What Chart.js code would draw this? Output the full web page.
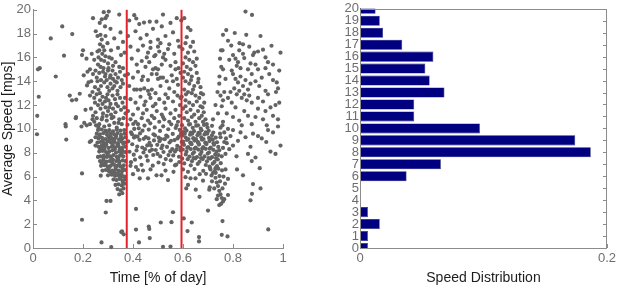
<!DOCTYPE html>
<html>
<head>
<meta charset="utf-8">
<script src="https://cdn.jsdelivr.net/npm/chart.js@4.4.1/dist/chart.umd.min.js"></script>
<style>
  html, body { margin: 0; padding: 0; background: #fff; }
  #wrap { position: relative; width: 619px; height: 288px; }
  canvas { position: absolute; top: 0; }
  #scatter { left: 0; }
  #dist { left: 310px; }
</style>
</head>
<body>
<div id="wrap">
  <canvas id="scatter" width="310" height="288"></canvas>
  <canvas id="dist" width="309" height="288"></canvas>
</div>
<script>
// time of day (fraction) vs average speed
const earlyPts = [
  [.02,15.0],[.027,15.1],[.023,12.7],[.017,11.1],[.016,9.55],[.071,17.6],[.117,18.6],[.157,17.96],
  [.124,16.15],[.091,14.4],[.147,12.8],[.156,12.4],[.173,12.45],[.187,12.95],[.172,11.0],[.13,10.4],
  [.133,9.1],[.196,16.2],[.2,16.6],[.203,14.5],[.216,13.65],[.233,14.0],[.171,10.9],[.194,10.2],
  [.131,10.2],[.205,10.5],[.215,10.3],[.227,8.9],[.233,9.0],[.21,11.6],[.218,14.8],[.214,15.9],[.26,7.65]
];
const morningUpper = [
  [.24,19.3],[.283,19.8],[.296,19.5],[.303,19.85],[.29,19.3],[.267,18.9],[.251,18.2],[.27,17.9],[.275,17.5],
  [.268,17.1],[.28,16.9],[.265,16.6],[.258,16.5],[.277,16.3],[.29,16.1],[.305,16.0],[.315,15.9],[.3,15.5],
  [.285,15.7],[.27,15.2],[.26,15.4],[.25,14.9],[.24,14.6],[.255,14.3],[.265,14.7],[.28,14.8],[.29,14.6],
  [.3,14.9],[.31,14.5],[.32,14.2],[.33,14.6],[.34,14.3],[.345,15.2],[.355,14.1],[.36,13.8],[.35,13.5],
  [.335,13.9],[.325,13.6],[.31,13.8],[.295,14.1],[.285,13.9],[.272,13.6],[.262,13.3],[.248,13.5],[.238,13.1],
  [.228,12.8],[.245,12.6],[.255,12.9],[.268,12.4],[.278,12.7],[.288,12.3],[.298,12.9],[.305,13.2],[.318,12.8],
  [.328,12.5],[.338,12.9],[.348,12.6],[.358,12.2],[.365,11.8],[.352,11.6],[.34,11.9],[.33,11.4],[.32,11.7],
  [.31,12.1],[.3,11.5],[.29,11.8],[.28,11.3],[.27,11.7],[.26,12.0],[.25,11.4],[.24,11.1],[.232,11.7],
  [.245,10.6],[.255,10.9],[.265,10.4],[.275,10.8],[.285,10.2],[.295,10.7],[.305,10.3],[.315,10.9],[.325,10.5],
  [.335,10.1],[.345,10.8],[.355,10.4],[.362,10.9],[.37,11.3],[.368,12.6],[.36,15.1],[.352,16.2],[.34,16.8],
  [.33,15.6],[.32,15.3],[.312,16.6],[.298,17.2],[.29,17.8],[.288,18.6],[.275,19.2],[.31,18.4],[.325,17.6],
  [.345,19.6],[.35,18.1],[.36,17.3],[.366,16.4],[.368,14.5],[.258,17.8],[.235,16.3],[.245,15.8],[.228,15.0],
  [.222,13.9],[.272,14.1],[.282,15.1],[.292,12.6],[.302,12.4],[.312,11.2],[.278,12.1],[.268,13.0],[.258,14.0],
  [.248,12.2],[.288,14.4],[.298,13.5],[.308,14.3],[.318,13.4],[.328,14.0],[.338,13.2],[.348,14.8],[.332,12.1],
  [.322,11.0],[.342,10.5],[.262,10.1],[.252,10.3],[.238,10.8],[.228,10.4],[.272,15.8],[.262,16.0],[.302,15.1],
  [.318,14.9],[.285,16.6],[.278,11.0],[.295,11.1],[.305,11.8]
];
const morningCore = [
  [.26,9.9],[.275,9.95],[.29,9.85],[.305,9.9],[.32,9.8],[.335,9.95],[.35,9.85],[.365,9.9],
  [.255,9.6],[.268,9.55],[.282,9.65],[.296,9.5],[.31,9.6],[.324,9.55],[.338,9.65],[.352,9.5],[.366,9.6],
  [.262,9.2],[.276,9.25],[.29,9.15],[.303,9.3],[.316,9.2],[.33,9.25],[.344,9.1],[.358,9.2],[.37,9.3],[.25,9.3],
  [.258,8.85],[.27,8.9],[.284,8.8],[.298,8.95],[.312,8.85],[.326,8.9],[.34,8.8],[.354,8.95],[.367,8.85],
  [.262,8.5],[.275,8.45],[.288,8.55],[.302,8.4],[.315,8.5],[.328,8.45],[.342,8.55],[.356,8.4],[.369,8.5],[.25,8.6],
  [.265,8.1],[.278,8.15],[.292,8.05],[.305,8.1],[.318,8.2],[.332,8.0],[.345,8.1],[.358,8.15],[.37,8.05],
  [.27,7.7],[.283,7.75],[.296,7.65],[.309,7.7],[.322,7.8],[.335,7.65],[.348,7.75],[.361,7.7],
  [.268,7.3],[.281,7.35],[.294,7.25],[.307,7.3],[.32,7.4],[.333,7.3],[.346,7.25],[.359,7.35],[.37,7.3],
  [.272,6.9],[.285,6.95],[.298,6.85],[.311,6.9],[.324,7.0],[.337,6.9],[.35,6.85],[.363,6.95],
  [.278,6.5],[.291,6.55],[.304,6.45],[.317,6.5],[.33,6.6],[.343,6.5],[.356,6.45],[.368,6.55],
  [.271,6.07],[.3,6.1],[.315,6.15],[.328,6.05],[.341,6.1],[.354,6.2],[.366,6.0],
  [.322,5.75],[.334,5.7],[.346,5.8],[.358,5.65],[.368,5.75],[.33,5.3],[.342,5.35],[.355,5.25],[.365,5.4],
  [.338,4.95],[.35,4.85],[.362,5.0],[.345,4.5],[.357,4.6],
  [.265,9.4],[.279,9.0],[.293,8.7],[.306,9.05],[.319,8.65],[.333,9.4],[.347,8.3],[.361,8.75],[.285,8.3],
  [.299,7.9],[.313,7.55],[.327,8.3],[.341,7.5],[.355,7.95],[.289,7.1],[.303,6.7],[.317,7.15],[.331,6.75],
  [.345,7.05],[.359,6.7],[.296,9.75],[.31,9.35],[.324,9.05],[.338,8.7],[.352,9.3],[.275,8.6],[.268,8.25],
  [.282,7.5],[.275,7.1],[.34,6.3],[.352,5.95],[.36,5.5],[.326,6.3],[.312,6.3]
];
const middayCore = [
  [.378,10.35],[.392,9.72],[.401,10.41],[.409,9.38],[.423,10.05],[.428,9.62],[.446,10.28],[.451,9.31],
  [.463,9.94],[.469,10.47],[.482,9.55],[.487,10.12],[.503,9.26],[.508,9.83],[.521,10.22],[.533,9.44],
  [.541,9.97],[.553,10.38],[.559,9.58],[.571,10.08],[.583,9.35],[.587,9.91],
  [.381,8.96],[.397,8.71],[.404,9.27],[.417,8.52],[.426,9.08],[.437,8.44],[.443,9.17],[.457,8.61],[.466,8.83],
  [.476,8.25],[.484,9.03],[.497,8.66],[.506,8.97],[.514,8.38],[.527,9.14],[.536,8.49],[.546,8.86],[.557,8.31],
  [.566,9.06],[.577,8.58],[.589,8.42],
  [.386,8.08],[.403,7.84],[.414,8.19],[.429,7.61],[.442,8.02],[.454,7.72],[.467,8.14],[.481,7.81],[.491,8.23],
  [.509,7.69],[.522,8.06],[.531,7.47],[.549,8.11],[.561,7.77],[.574,8.28],[.584,7.66],
  [.392,7.21],[.408,7.42],[.434,6.98],[.459,7.33],[.479,6.91],[.502,7.18],[.523,7.05],[.551,7.36],[.568,6.94],[.585,7.22],
  [.412,6.8],[.427,5.85],[.44,6.5],[.46,5.85],[.47,6.6],[.494,6.1],[.514,6.1],[.53,6.5],[.54,5.7],[.573,7.0],
  [.562,6.4],[.4,6.2],[.42,6.55],[.39,6.9],
  [.396,9.55],[.418,9.35],[.438,9.85],[.462,9.2],[.488,9.45],[.512,9.15],[.538,9.35],[.552,9.0],[.578,9.2],
  [.405,10.0],[.448,8.3],[.472,8.6],[.498,7.9],[.518,8.6],[.542,7.8],[.568,8.1],[.592,9.6],[.595,8.9],[.59,8.2],[.597,7.5]
];
const middayUpper = [
  [.385,19.1],[.405,19.55],[.413,19.27],[.444,18.93],[.467,19.0],[.494,19.0],[.52,19.6],[.55,18.9],[.575,19.3],
  [.38,17.8],[.41,18.2],[.43,17.6],[.455,17.9],[.48,18.4],[.5,17.5],[.51,17.2],[.53,17.8],[.56,18.1],[.58,17.4],
  [.39,16.9],[.42,16.6],[.44,17.0],[.46,16.4],[.47,16.8],[.49,16.2],[.505,16.5],[.52,16.0],[.54,16.7],[.565,16.3],
  [.585,16.9],[.395,15.9],[.415,15.4],[.435,15.7],[.45,15.2],[.465,15.6],[.48,15.0],[.49,15.1],[.5,15.0],
  [.515,15.4],[.53,15.8],[.55,15.3],[.57,15.6],[.582,15.1],[.38,14.6],[.4,14.3],[.42,14.8],[.44,14.4],
  [.46,14.1],[.475,14.6],[.5,14.2],[.51,14.3],[.52,14.3],[.535,14.0],[.555,14.5],[.575,14.2],[.59,14.7],
  [.385,13.6],[.405,13.3],[.415,13.3],[.43,13.3],[.445,13.4],[.46,13.2],[.475,13.3],[.49,13.0],[.51,13.6],
  [.53,12.9],[.545,13.4],[.565,13.1],[.58,13.7],[.39,12.5],[.41,12.2],[.43,12.7],[.45,12.3],[.47,12.6],
  [.49,12.1],[.505,12.5],[.525,12.2],[.54,12.6],[.56,12.3],[.578,12.8],[.588,12.0],[.38,11.5],[.4,11.2],
  [.42,11.7],[.44,11.3],[.455,11.6],[.475,11.1],[.495,11.5],[.515,11.2],[.53,11.7],[.55,11.3],[.57,11.6],
  [.585,11.1],[.39,10.8],[.41,10.6],[.435,10.9],[.46,10.7],[.485,10.9],[.505,10.6],[.525,10.8],[.545,10.6],
  [.565,10.9],[.58,10.6],[.425,18.8],[.47,17.3],[.515,18.6],[.545,17.1],[.57,15.0],[.455,16.0],[.485,16.1],
  [.5,16.9],[.525,16.3],[.435,14.1],[.465,12.9],[.495,14.6],[.56,14.0],[.59,12.6],[.575,10.3],[.42,10.4],
  [.445,12.0],[.48,11.9],[.52,11.0]
];
const afternoonUpper = [
  [.593,19.1],[.605,19.3],[.62,18.5],[.63,18.3],[.615,17.7],[.64,17.3],[.63,16.9],[.645,16.5],[.62,16.4],
  [.61,16.0],[.625,15.8],[.64,15.6],[.6,15.5],[.615,15.2],[.63,15.0],[.65,15.3],[.605,14.8],[.62,14.6],
  [.635,14.4],[.655,14.7],[.6,14.3],[.61,14.0],[.625,13.8],[.645,13.6],[.66,13.9],[.67,13.5],[.605,13.3],
  [.62,13.1],[.635,13.0],[.65,12.8],[.665,12.6],[.68,12.9],[.595,12.7],[.61,12.4],[.625,12.2],[.64,12.0],
  [.655,12.3],[.67,11.9],[.685,12.2],[.6,11.7],[.615,11.4],[.63,11.6],[.645,11.2],[.66,11.5],[.675,11.1],
  [.683,11.4],[.605,10.9],[.62,10.7],[.635,11.0],[.65,10.6],[.665,10.9],[.68,10.6],[.69,10.8],[.61,11.9],
  [.64,13.3],[.655,15.9],[.61,17.2],[.598,16.7],[.632,14.1],[.612,12.9],[.628,10.4],[.66,10.3],[.678,11.8],
  [.672,13.0],[.662,14.2],[.695,10.4]
];
const afternoonCore = [
  [.596,10.31],[.608,10.04],[.624,10.36],[.639,10.09],[.653,10.27],[.671,10.02],[.684,10.33],[.698,10.11],[.716,10.26],
  [.602,9.74],[.614,9.86],[.631,9.69],[.644,9.81],[.662,9.66],[.674,9.88],[.691,9.72],[.703,9.84],[.721,9.69],
  [.598,9.45],[.611,9.28],[.628,9.51],[.641,9.22],[.658,9.47],[.673,9.29],[.686,9.53],[.704,9.24],[.716,9.46],[.731,9.27],
  [.601,8.93],[.616,9.07],[.629,8.86],[.646,9.02],[.659,8.91],[.676,9.09],[.689,8.84],[.706,8.98],[.719,9.11],[.736,8.88],
  [.604,8.66],[.621,8.48],[.634,8.71],[.651,8.44],[.664,8.68],[.681,8.47],[.694,8.73],[.711,8.42],[.724,8.67],[.741,8.49],
  [.599,8.27],[.614,8.09],[.631,8.31],[.644,8.04],[.661,8.26],[.674,8.07],[.691,8.33],[.704,8.02],[.721,8.24],[.734,8.09],
  [.611,7.86],[.626,7.68],[.639,7.91],[.656,7.64],[.669,7.87],[.686,7.69],[.699,7.93],[.716,7.63],[.729,7.86],
  [.619,7.46],[.636,7.29],[.649,7.52],[.666,7.24],[.679,7.47],[.696,7.28],[.709,7.51],[.726,7.23],[.739,7.44],
  [.631,6.94],[.659,7.06],[.691,6.97],[.706,6.84],[.719,7.08],[.736,6.88],[.751,7.12],
  [.646,6.63],[.681,6.48],[.708,6.71],[.727,6.46],[.741,6.66],[.756,6.52],[.692,6.23],[.714,6.09],[.731,6.31],[.746,6.04],
  [.607,9.6],[.622,9.15],[.637,9.6],[.652,9.15],[.667,9.6],[.682,9.15],[.697,9.6],[.712,9.15],[.617,8.4],
  [.632,8.8],[.647,8.35],[.662,8.8],[.677,8.35],[.692,8.8],[.707,8.35],[.722,8.8],[.642,7.55],[.672,7.55],
  [.702,7.55],[.732,7.55],[.605,7.1],[.62,6.4],[.61,5.95],[.6,6.6],
  [.75,10.1],[.765,9.7],[.78,10.0],[.75,9.3],[.765,8.9],[.745,8.2],[.76,8.4],[.775,8.8],[.79,9.4],[.8,9.9],
  [.755,7.7],[.77,7.9],[.785,8.3],[.8,8.6],[.814,7.7],[.748,9.6],[.758,10.3],[.772,9.2],[.742,7.8]
];
const afternoonTail = [
  [.72,6.3],[.73,5.9],[.735,5.5],[.74,5.2],[.745,4.8],[.75,4.5],[.755,4.2],[.76,3.9],[.74,4.4],[.752,3.7],
  [.765,4.1],[.748,5.6],[.758,5.0],[.762,6.0],[.768,5.4],[.77,6.6],[.78,5.8],[.725,5.0],[.735,4.1],[.745,3.6],
  [.73,6.7],[.716,5.6],[.71,6.6],[.705,4.9],[.667,6.2],[.68,5.65],[.707,5.1],[.613,5.0],[.62,5.3],[.65,5.85],[.63,5.85]
];
const eveningPts = [
  [.85,19.85],[.876,19.57],[.773,18.3],[.807,18.05],[.853,17.9],[.826,17.2],[.84,17.1],[.793,17.0],[.954,16.98],
  [.92,16.65],[.99,16.4],[.8,16.2],[.81,15.9],[.84,16.3],[.845,15.95],[.88,16.2],[.885,16.4],[.9,16.5],[.93,16.0],
  [.82,15.6],[.815,15.3],[.83,15.1],[.89,15.4],[.93,15.1],[.985,14.9],[.795,14.9],[.753,15.2],[.76,15.0],
  [.8,14.6],[.81,14.2],[.82,13.9],[.83,14.4],[.84,13.6],[.85,14.1],[.86,13.3],[.87,13.8],[.805,13.4],[.815,12.9],
  [.825,13.2],[.835,12.6],[.845,12.9],[.855,12.4],[.865,12.8],[.875,12.2],[.96,14.1],[.975,13.9],[.98,13.4],
  [.972,13.1],[.75,12.8],[.765,13.1],[.76,12.4],[.755,11.9],[.79,13.1],[.78,12.6],[.9,12.6],[.92,12.3],[.94,12.9],
  [.95,11.8],[.93,11.5],[.96,11.1],[.985,12.2],[.98,10.8],[.8,11.0],[.825,10.7],[.835,10.3],[.875,10.4],[.89,11.0],
  [.92,10.8],[.935,10.3],[.98,10.2],[.752,16.6],[.748,15.9],[.746,14.4],[.745,13.8],[.738,13.1],[.73,12.0],[.74,11.3],
  [.72,10.8],[.77,14.2],[.775,11.3],[.76,10.6],[.785,15.8],[.78,17.4],[.76,17.9],[.758,16.6],[.86,15.0],[.875,14.6],
  [.89,14.0],[.905,13.6],[.915,14.3],[.93,13.2],[.945,14.6],[.96,15.4],[.9,15.0],[.87,15.5],[.86,7.9],[.875,7.3],
  [.89,7.6],[.816,6.6],[.84,6.1],[.907,6.7],[.88,5.37],[.91,5.0],[.876,4.55],[.87,4.0],[.78,4.45],[.933,8.9],
  [.96,9.7],[.9,9.4],[.915,9.2],[.88,9.6],[.85,9.3],[.83,9.7],[.82,9.0],[.95,8.1],[.97,7.9],[.99,8.6],[.87,8.5],[.94,9.9],
  [.81,11.8],[.845,11.5],[.86,11.1],[.9,11.7],[.795,12.2],[.825,16.6],[.865,16.9],[.91,17.8],[.94,15.6],[.97,12.0]
];
const lowPts = [
  [.196,6.26],[.196,2.37],[.274,0.47],[.291,2.98],[.294,3.95],[.31,3.95],[.313,0.08],[.353,1.34],[.363,1.15],
  [.356,1.4],[.412,3.28],[.412,1.55],[.424,0.47],[.463,1.8],[.465,1.6],[.467,0.83],[.511,2.14],[.52,0.1],[.55,0.12],
  [.56,3.0],[.554,2.17],[.603,2.48],[.618,1.42],[.635,2.14],[.664,0.92],[.664,0.55],[.7,3.14],[.755,1.11],
  [.758,2.26],[.778,0.97],[.941,1.56],[.651,4.9],[.666,4.3]
];
const dividers = [0.375, 0.594];

// speed histogram
const speedBins = [0,1,2,3,4,5,6,7,8,9,10,11,12,13,14,15,16,17,18,19,20];
const speedShare = [0.0064,0.0064,0.016,0.0064,0,0,0.0377,0.0655,0.1869,0.1743,0.0971,0.0439,0.0439,0.0684,
  0.0564,0.0529,0.0594,0.0342,0.0187,0.016,0.0126];

const FONT = '"Liberation Sans", Arial, Helvetica, sans-serif';
const tickGray = '#6e6e6e';
const axisGray = '#8c8c8c';
const fmt = v => String(+v.toFixed(1));

const innerTicks = {
  id: 'innerTicks',
  afterDraw(chart, args, opts) {
    const { ctx, chartArea: a, scales: { x, y } } = chart;
    ctx.save();
    ctx.strokeStyle = axisGray;
    ctx.lineWidth = 1;
    ctx.beginPath();
    if (opts.box) {
      ctx.rect(Math.round(a.left) + 0.5, Math.round(a.top) + 0.5,
        Math.round(a.right - a.left) - 1, Math.round(a.bottom - a.top));
    }
    y.ticks.forEach(t => {
      const py = Math.round(y.getPixelForValue(t.value)) + 0.5;
      if (opts.left) { ctx.moveTo(a.left, py); ctx.lineTo(a.left + 4, py); }
      if (opts.right) { ctx.moveTo(a.right, py); ctx.lineTo(a.right - 4, py); }
    });
    x.ticks.forEach(t => {
      const px = Math.round(x.getPixelForValue(t.value)) + 0.5;
      ctx.moveTo(px, a.bottom); ctx.lineTo(px, a.bottom - 4);
    });
    ctx.stroke();
    ctx.restore();
  }
};

const allPts = [].concat(earlyPts, morningUpper, morningCore, middayCore, middayUpper,
  afternoonUpper, afternoonCore, afternoonTail, eveningPts, lowPts);

new Chart(document.getElementById('scatter'), {
  type: 'scatter',
  data: {
    datasets: [
      ...dividers.map(d => ({
        type: 'line',
        data: [{ x: d, y: 0 }, { x: d, y: 20 }],
        borderColor: '#e3232a',
        borderWidth: 2,
        pointRadius: 0,
        showLine: true,
        clip: false
      })),
      {
        data: allPts.map(p => ({ x: p[0], y: p[1] })),
        backgroundColor: '#636363',
        borderWidth: 0,
        pointRadius: 2.1,
        clip: false
      }
    ]
  },
  options: {
    responsive: false,
    animation: false,
    devicePixelRatio: 1,
    layout: { padding: { top: 9, right: 27, left: 0, bottom: 0 } },
    plugins: { legend: { display: false }, tooltip: { enabled: false }, innerTicks: { left: true } },
    scales: {
      x: {
        type: 'linear', min: 0, max: 1,
        grid: { display: false, drawTicks: false },
        border: { display: true, color: axisGray },
        ticks: { stepSize: 0.2, callback: fmt, color: tickGray, font: { family: FONT, size: 13 }, padding: 3, maxRotation: 0 },
        title: { display: true, text: 'Time [% of day]', color: '#1c1c1c', font: { family: FONT, size: 14 }, padding: { top: 0, bottom: 1 } },
        afterFit: s => { s.height = 40; }
      },
      y: {
        type: 'linear', min: 0, max: 20,
        grid: { display: false, drawTicks: false },
        border: { display: true, color: axisGray },
        ticks: { stepSize: 2, callback: fmt, color: tickGray, font: { family: FONT, size: 13 }, padding: 2 },
        title: { display: true, text: 'Average Speed [mps]', color: '#1c1c1c', font: { family: FONT, size: 14 }, padding: { top: 0, bottom: 0 } },
        afterFit: s => { s.width = 33; }
      }
    }
  },
  plugins: [innerTicks]
});

new Chart(document.getElementById('dist'), {
  type: 'bar',
  data: {
    datasets: [{
      data: speedBins.map((b, i) => ({ x: speedShare[i], y: b })),
      backgroundColor: '#000080',
      borderColor: '#1c1c5c',
      borderWidth: 0.6,
      barPercentage: 0.84,
      categoryPercentage: 1,
      clip: 0
    }]
  },
  options: {
    indexAxis: 'y',
    responsive: false,
    animation: false,
    devicePixelRatio: 1,
    layout: { padding: { top: 8.5, right: 10, left: 0, bottom: 0 } },
    plugins: { legend: { display: false }, tooltip: { enabled: false }, innerTicks: { right: true, box: true } },
    scales: {
      x: {
        type: 'linear', min: 0, max: 0.2,
        grid: { display: false, drawTicks: false },
        border: { display: true, color: axisGray },
        ticks: { stepSize: 0.2, callback: fmt, color: tickGray, font: { family: FONT, size: 13 }, padding: 3, maxRotation: 0 },
        title: { display: true, text: 'Speed Distribution', color: '#1c1c1c', font: { family: FONT, size: 14 }, padding: { top: 0, bottom: 1 } },
        afterFit: s => { s.height = 40; }
      },
      y: {
        type: 'linear', min: 0, max: 20, offset: false,
        grid: { display: false, drawTicks: false, offset: false },
        border: { display: true, color: axisGray },
        ticks: { stepSize: 1, autoSkip: false, callback: fmt, color: tickGray, font: { family: FONT, size: 13 }, padding: 1 },
        afterFit: s => { s.width = 50; }
      }
    }
  },
  plugins: [innerTicks]
});
</script>
</body>
</html>
